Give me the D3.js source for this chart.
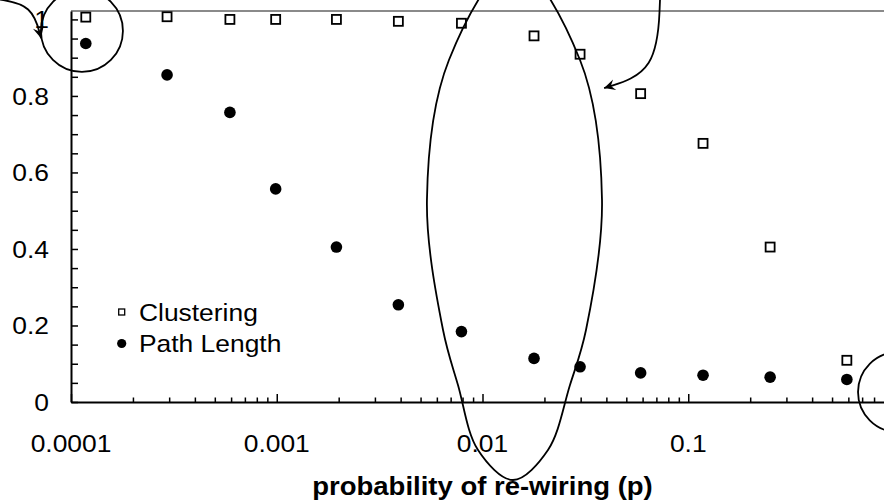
<!DOCTYPE html>
<html lang="en">
<head>
<meta charset="utf-8">
<title>Clustering and path length vs re-wiring probability</title>
<script src="https://cdn.jsdelivr.net/npm/d3@7"></script>
<style>
  body { margin: 0; background: #fff; }
  svg { display: block; }
  .lbl { font-family: "Liberation Sans", Arial, Helvetica, sans-serif; font-size: 24px; fill: #000; }
  .title { font-weight: bold; font-size: 25px; }
  .axis path, .axis line { stroke: #000; }
  .annot { fill: none; stroke: #000; stroke-width: 1.8; }
</style>
</head>
<body>
<div id="chart"></div>
<script>
// re-wiring probability for each sample
const pValues = [0.000118, 0.000293, 0.000592, 0.000988, 0.00195, 0.0039, 0.0079,
                 0.0178, 0.0298, 0.0587, 0.118, 0.25, 0.59];
// normalised clustering C(p)/C(0)
const clustering = [1.006, 1.007, 1.0, 1.0, 1.0, 0.995, 0.99,
                    0.957, 0.909, 0.806, 0.676, 0.405, 0.109];
// normalised path length L(p)/L(0)
const pathLength = [0.937, 0.855, 0.757, 0.557, 0.405, 0.254, 0.184,
                    0.114, 0.092, 0.076, 0.070, 0.065, 0.059];

const xTickValues = [0.0001, 0.001, 0.01, 0.1];
const xTickLabels = ["0.0001", "0.001", "0.01", "0.1"];
const yTickValues = [0, 0.2, 0.4, 0.6, 0.8, 1];
const yTickLabels = ["0", "0.2", "0.4", "0.6", "0.8", "1"];
const legendLabels = ["Clustering", "Path Length"];
const xTitle = "probability of re-wiring (p)";

// outline of the hand-drawn loop around the small-world region, in (p, value)
const loopOutline = [
  [0.0143, 1.142], [0.02978, 0.894], [0.03809, 0.528], [0.03184, 0.1882],
  [0.02662, 0.0444], [0.02081, -0.1255], [0.01407, -0.2039], [0.00951, -0.1255],
  [0.0076, 0.0444], [0.00643, 0.1882], [0.00537, 0.528], [0.00687, 0.894]
];

const width = 884, height = 504;
const plot = { left: 71, right: 894, top: 11, bottom: 402 };
const stretch = 1.1; // text in the original is drawn a bit wide

const x = d3.scaleLog().domain([1e-4, 1]).range([plot.left, plot.right]);
const y = d3.scaleLinear().domain([0, 1.022]).range([plot.bottom, plot.top]);

const svg = d3.select("#chart").append("svg")
  .attr("width", width).attr("height", height);

// arrow head
svg.append("defs").append("marker")
  .attr("id", "head")
  .attr("viewBox", "-12 -6 14 12")
  .attr("refX", 0).attr("refY", 0)
  .attr("markerWidth", 14).attr("markerHeight", 12)
  .attr("markerUnits", "userSpaceOnUse")
  .attr("orient", "auto")
  .append("path")
  .attr("d", "M0,0 L-11,-5.5 L-7,0 L-11,5.5 Z")
  .attr("fill", "#000");

function label(g, tx, ty, txt, anchor, cls) {
  return g.append("text")
    .attr("class", "lbl" + (cls ? " " + cls : ""))
    .attr("text-anchor", anchor)
    .attr("transform", `translate(${tx},${ty}) scale(${stretch},1)`)
    .text(txt);
}

// top border of plot area
svg.append("line")
  .attr("x1", plot.left).attr("x2", width)
  .attr("y1", y(1.022)).attr("y2", y(1.022))
  .attr("stroke", "#8a8a8a").attr("stroke-width", 2);

// x axis: major and minor ticks pointing up into the plot
const minorX = [];
[1e-4, 1e-3, 1e-2, 1e-1].forEach(d => { for (let k = 2; k <= 9; k++) minorX.push(d * k); });

svg.append("g").attr("class", "axis")
  .attr("transform", `translate(0,${plot.bottom})`)
  .call(d3.axisBottom(x).tickValues(minorX).tickSizeInner(-4.5).tickSizeOuter(0).tickFormat(""))
  .call(g => g.selectAll("line").attr("stroke-width", 1.5))
  .call(g => g.select(".domain").attr("stroke-width", 2));

svg.append("g").attr("class", "axis")
  .attr("transform", `translate(0,${plot.bottom})`)
  .call(d3.axisBottom(x).tickValues(xTickValues.concat([1])).tickSizeInner(-8).tickSizeOuter(0).tickFormat(""))
  .call(g => g.selectAll("line").attr("stroke-width", 1.5))
  .call(g => g.select(".domain").remove());

// y axis: ticks every 0.05 pointing right
svg.append("g").attr("class", "axis")
  .attr("transform", `translate(${plot.left},0)`)
  .call(d3.axisLeft(y).tickValues(d3.range(0, 1.001, 0.05)).tickSizeInner(-7).tickSizeOuter(0).tickFormat(""))
  .call(g => g.selectAll("line").attr("stroke-width", 1.5))
  .call(g => g.select(".domain").attr("stroke-width", 2));

// tick labels
xTickValues.forEach((v, i) => label(svg, x(v), 452, xTickLabels[i], "middle"));
yTickValues.forEach((v, i) => label(svg, 49, y(v) + 9, yTickLabels[i], "end"));

// axis title
label(svg, (plot.left + plot.right) / 2, 495, xTitle, "middle", "title");

// clustering: open squares
const sq = 9;
svg.append("g").selectAll("rect")
  .data(pValues.map((p, i) => [p, clustering[i]]))
  .join("rect")
  .attr("x", d => x(d[0]) - sq / 2)
  .attr("y", d => y(d[1]) - sq / 2)
  .attr("width", sq).attr("height", sq)
  .attr("fill", "#fff").attr("stroke", "#000").attr("stroke-width", 1.8);

// path length: filled circles
svg.append("g").selectAll("circle")
  .data(pValues.map((p, i) => [p, pathLength[i]]))
  .join("circle")
  .attr("cx", d => x(d[0]))
  .attr("cy", d => y(d[1]))
  .attr("r", 5.8)
  .attr("fill", "#000");

// legend
const legend = svg.append("g");
legend.append("rect")
  .attr("x", 118.7).attr("y", 309).attr("width", 6).attr("height", 6)
  .attr("fill", "#fff").attr("stroke", "#000").attr("stroke-width", 1.3);
legend.append("circle").attr("cx", 121.7).attr("cy", 343.5).attr("r", 4.6).attr("fill", "#000");
label(legend, 139, 321, legendLabels[0], "start");
label(legend, 139, 352, legendLabels[1], "start");

// annotations, placed in data coordinates
const annot = svg.append("g");
// circle around the first points
annot.append("circle").attr("class", "annot")
  .attr("cx", x(1.13e-4)).attr("cy", y(0.97)).attr("r", 41);
// loop around the small-world region
annot.append("path").attr("class", "annot")
  .attr("d", d3.line().x(d => x(d[0])).y(d => y(d[1])).curve(d3.curveCatmullRomClosed.alpha(0.5))(loopOutline))
  .attr("stroke-width", 2);
// circle at the right end of the axis
annot.append("circle").attr("class", "annot")
  .attr("cx", x(1.046)).attr("cy", y(0.026)).attr("r", 40);

const curve = d3.line().x(d => x(d[0])).y(d => y(d[1])).curve(d3.curveBasis);
// arrow into the top-left circle
annot.append("path").attr("class", "annot")
  .attr("d", curve([[4.4e-5, 1.053], [6.5e-5, 1.038], [7.15e-5, 0.951]]))
  .attr("marker-end", "url(#head)");
// arrow towards the falling clustering points
annot.append("path").attr("class", "annot")
  .attr("d", curve([[0.0729, 1.051], [0.0705, 0.8625], [0.039, 0.8207]]))
  .attr("marker-end", "url(#head)");
</script>
</body>
</html>
